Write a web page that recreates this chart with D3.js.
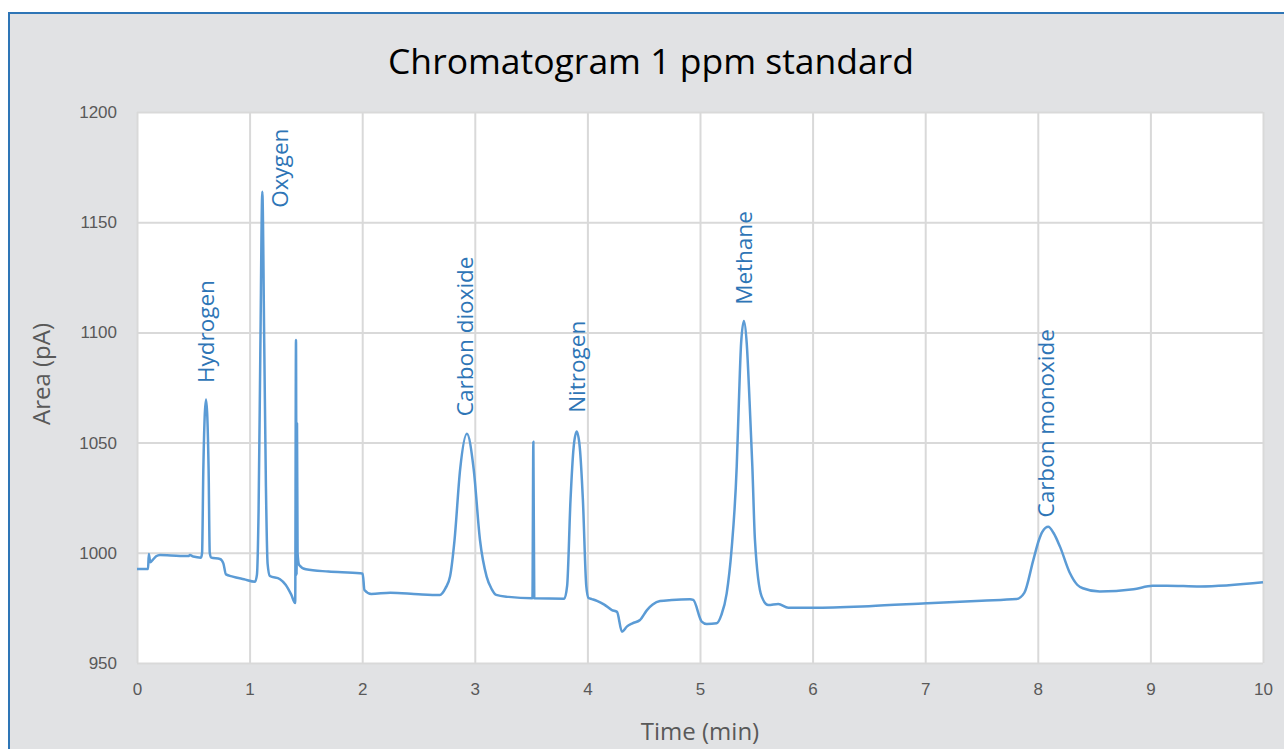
<!DOCTYPE html>
<html>
<head>
<meta charset="utf-8">
<script src="https://cdn.jsdelivr.net/npm/d3@7"></script>
<style>
  html, body { margin: 0; padding: 0; background: #ffffff; }
  svg { display: block; font-family: "Open Sans", "Noto Sans", sans-serif; }
</style>
</head>
<body>
<svg id="chart" width="1284" height="749"></svg>
<script>
// Data (time in min, area in pA)
var times = [0, 0.098, 0.105, 0.118, 0.14, 0.17, 0.204, 0.3, 0.456, 0.47, 0.5, 0.568, 0.578, 0.589, 0.613, 0.636, 0.646, 0.66,
  0.737, 0.767, 0.79, 0.85, 0.95, 1.048, 1.065, 1.08, 1.095, 1.113, 1.13, 1.145, 1.16, 1.18, 1.27, 1.32, 1.37, 1.405,
  1.412, 1.417, 1.421, 1.426, 1.44, 1.5, 1.7, 1.98, 2.004, 2.02, 2.08, 2.25, 2.5, 2.69, 2.74, 2.78, 2.82, 2.87, 2.93,
  2.99, 3.046, 3.105, 3.15, 3.19, 3.3, 3.512, 3.52, 3.528, 3.795, 3.82, 3.85, 3.878, 3.905, 3.932, 3.96, 3.99, 4.01,
  4.04, 4.085, 4.15, 4.218, 4.263, 4.307, 4.35, 4.4, 4.467, 4.529, 4.58, 4.645, 4.75, 4.911, 4.94, 5.015, 5.06, 5.148,
  5.19, 5.237, 5.28, 5.326, 5.345, 5.365, 5.39, 5.415, 5.44, 5.465, 5.488, 5.548, 5.607, 5.695, 5.784, 6.006, 6.5,
  7.013, 7.5, 7.81, 7.88, 7.96, 8.01, 8.04, 8.093, 8.14, 8.197, 8.286, 8.35, 8.4, 8.55, 8.85, 9.02, 9.145, 9.44, 10];

var areas = [992.6, 992.6, 999.5, 995.7, 996.8, 998.4, 999, 998.8, 998.5, 999, 998.3, 997.8, 1000, 1037.6, 1069.6, 1037.6, 1000, 997.8,
  997.2, 995.2, 990.2, 989.2, 988, 986.9, 990, 1020, 1090, 1163.8, 1095, 1030, 995, 989.5, 988, 985.5, 981, 977.2,
  1096.6, 990, 1058.7, 1000, 994.5, 992.5, 991.5, 990.7, 990.5, 983.1, 981.3, 981.9, 981.2, 980.9, 984, 989.2, 1005.8, 1038, 1054,
  1038, 1005.8, 989.2, 983.5, 980.9, 980, 979.4, 1050.4, 979.4, 979.2, 985, 1024, 1048, 1055, 1048, 1024, 985, 979.5,
  979, 978.2, 976.5, 974, 973.2, 964.2, 966.5, 968, 969.5, 974, 976.5, 978.1, 978.6, 978.9, 978.6, 968.8, 967.7, 968,
  971.8, 981.6, 1001.3, 1039.1, 1068, 1095, 1105.2, 1095, 1069, 1039, 1005.8, 980.1, 976.3, 976.8, 975.1, 975.1, 975.8,
  977.1, 978.3, 979, 981.8, 996.7, 1005.8, 1009.5, 1011.8, 1009, 1002.8, 990.7, 985.5, 983.9, 982.4, 983.5, 985, 985.1, 984.7, 986.6];

// Peak annotations (label foot position in data units)
var peakNames = ["Hydrogen", "Oxygen", "Carbon dioxide", "Nitrogen", "Methane", "Carbon monoxide"];
var peakLabelTimes = [0.61, 1.27, 2.91, 3.91, 5.39, 8.07];
var peakLabelAreas = [1077, 1156.5, 1062, 1063.5, 1112.5, 1016];

var xTickValues = [0, 1, 2, 3, 4, 5, 6, 7, 8, 9, 10];
var yTickValues = [950, 1000, 1050, 1100, 1150, 1200];

var svg = d3.select("#chart");

// chart area frame
svg.append("rect")
  .attr("x", 9).attr("y", 13)
  .attr("width", 1290).attr("height", 750)
  .attr("fill", "#e1e2e4")
  .attr("stroke", "#2e75b6")
  .attr("stroke-width", 2);

var plot = { left: 137, right: 1263, top: 112, bottom: 663 };

var x = d3.scaleLinear().domain([0, 10]).range([plot.left, plot.right]);
var y = d3.scaleLinear().domain([950, 1200]).range([plot.bottom, plot.top]);

// plot background
svg.append("rect")
  .attr("x", plot.left).attr("y", plot.top)
  .attr("width", plot.right - plot.left)
  .attr("height", plot.bottom - plot.top)
  .attr("fill", "#ffffff");

// gridlines
svg.append("g")
  .attr("transform", "translate(0," + plot.bottom + ")")
  .call(d3.axisBottom(x).tickValues(xTickValues).tickSize(-(plot.bottom - plot.top)).tickFormat(""))
  .call(function (g) {
    g.select(".domain").remove();
    g.selectAll("line").attr("stroke", "#d9d9d9").attr("stroke-width", 2);
  });

svg.append("g")
  .attr("transform", "translate(" + plot.left + ",0)")
  .call(d3.axisLeft(y).tickValues(yTickValues).tickSize(-(plot.right - plot.left)).tickFormat(""))
  .call(function (g) {
    g.select(".domain").remove();
    g.selectAll("line").attr("stroke", "#d9d9d9").attr("stroke-width", 2);
  });

// tick labels
svg.append("g")
  .attr("transform", "translate(0," + plot.bottom + ")")
  .call(d3.axisBottom(x).tickValues(xTickValues).tickSize(0).tickPadding(20).tickFormat(d3.format("d")))
  .call(function (g) {
    g.select(".domain").remove();
    g.selectAll("text").attr("fill", "#595959").style("font-size", "17px").style("font-family", "inherit");
  });

svg.append("g")
  .attr("transform", "translate(" + plot.left + ",0)")
  .call(d3.axisLeft(y).tickValues(yTickValues).tickSize(0).tickPadding(20).tickFormat(d3.format("d")))
  .call(function (g) {
    g.select(".domain").remove();
    g.selectAll("text").attr("fill", "#595959").style("font-size", "17px").style("font-family", "inherit");
  });

// trace
var points = times.map(function (t, i) { return [t, areas[i]]; });
var line = d3.line()
  .x(function (d) { return x(d[0]); })
  .y(function (d) { return y(d[1]); })
  .curve(d3.curveMonotoneX);

svg.append("path")
  .datum(points)
  .attr("d", line)
  .attr("fill", "none")
  .attr("stroke", "#5b9bd5")
  .attr("stroke-width", 2.5)
  .attr("stroke-linejoin", "round");

// peak labels, rotated
peakNames.forEach(function (name, i) {
  var px = x(peakLabelTimes[i]);
  var py = y(peakLabelAreas[i]);
  svg.append("text")
    .attr("transform", "translate(" + px + "," + py + ") rotate(-90)")
    .attr("dy", "0.35em")
    .attr("fill", "#2e75b6")
    .style("font-size", "22.5px")
    .text(name);
});

// titles
svg.append("text")
  .attr("x", 651).attr("y", 74)
  .attr("text-anchor", "middle")
  .attr("fill", "#000000")
  .style("font-size", "35.5px")
  .text("Chromatogram 1 ppm standard");

svg.append("text")
  .attr("x", 700).attr("y", 740)
  .attr("text-anchor", "middle")
  .attr("fill", "#595959")
  .style("font-size", "24px")
  .text("Time (min)");

svg.append("text")
  .attr("transform", "translate(42,374) rotate(-90)")
  .attr("dy", "0.35em")
  .attr("text-anchor", "middle")
  .attr("fill", "#595959")
  .style("font-size", "24px")
  .text("Area (pA)");
</script>
</body>
</html>
